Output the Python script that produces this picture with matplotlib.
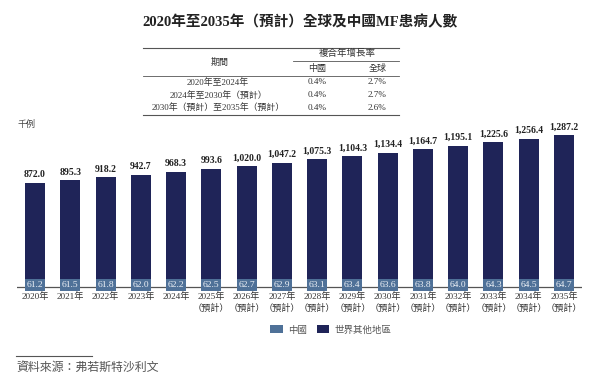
import matplotlib
matplotlib.use("Agg")
import matplotlib.pyplot as plt
from matplotlib.lines import Line2D
from matplotlib.patches import Patch

# --- data ---
years = ["2020年", "2021年", "2022年", "2023年", "2024年", "2025年", "2026年", "2027年",
         "2028年", "2029年", "2030年", "2031年", "2032年", "2033年", "2034年", "2035年"]
forecast = [False] * 5 + [True] * 11
china = [61.2, 61.5, 61.8, 62.0, 62.2, 62.5, 62.7, 62.9,
         63.1, 63.4, 63.6, 63.8, 64.0, 64.3, 64.5, 64.7]
rest_of_world = [872.0, 895.3, 918.2, 942.7, 968.3, 993.6, 1020.0, 1047.2,
                 1075.3, 1104.3, 1134.4, 1164.7, 1195.1, 1225.6, 1256.4, 1287.2]

periods = ["2020年至2024年", "2024年至2030年（預計）", "2030年（預計）至2035年（預計）"]
cagr_china = ["0.4%", "0.4%", "0.4%"]
cagr_global = ["2.7%", "2.7%", "2.6%"]

NAVY = "#1f2458"
CHINA_BLUE = "#4f7198"
TXT = "#333333"
SERIF = ["Liberation Serif", "Noto Sans CJK TC"]
SANS = ["Noto Sans CJK TC", "DejaVu Sans"]

W, H = 600, 385


def fx(x):
    return x / W


def fy(y):
    return 1 - y / H


fig = plt.figure(figsize=(6, 3.85), dpi=100)

# --- title ---
fig.text(fx(300), fy(22.5), "2020年至2035年（預計）全球及中國MF患病人數", ha="center", va="center",
         fontsize=10.5, fontweight="bold", family=SERIF, color="#222222")

# --- CAGR table ---
def hline(y, x0, x1, lw=0.8, color="#555555"):
    fig.add_artist(Line2D([fx(x0), fx(x1)], [fy(y), fy(y)], lw=lw, color=color))

hline(47.5, 143, 399)
hline(61, 293, 399, lw=0.6)
hline(76, 143, 399, lw=0.6)
hline(115, 143, 399)

fig.text(fx(220), fy(62), "期間", ha="center", va="center", fontsize=6.5, family=SANS, color=TXT)
fig.text(fx(347), fy(53.5), "複合年增長率", ha="center", va="center", fontsize=6.8, family=SANS, color=TXT)
fig.text(fx(317), fy(68.5), "中國", ha="center", va="center", fontsize=6.5, family=SANS, color=TXT)
fig.text(fx(378), fy(68.5), "全球", ha="center", va="center", fontsize=6.5, family=SANS, color=TXT)

for i, (p, c, g) in enumerate(zip(periods, cagr_china, cagr_global)):
    y = 82.5 + i * 12.5
    fig.text(fx(218), fy(y), p, ha="center", va="center", fontsize=6.4, family=SERIF, color=TXT)
    fig.text(fx(317), fy(y), c, ha="center", va="center", fontsize=6.6, family=SERIF, color=TXT)
    fig.text(fx(377), fy(y), g, ha="center", va="center", fontsize=6.6, family=SERIF, color=TXT)

# --- bars ---
ax = fig.add_axes([fx(17), fy(289), (582 - 17) / W, (289 - 130) / H])
x = list(range(len(years)))
width = 0.567
ax.bar(x, china, width=width, color=CHINA_BLUE, zorder=3)
ax.bar(x, rest_of_world, width=width, bottom=china, color=NAVY, zorder=3)
ax.axhline(17.6, color="#555555", lw=0.9, zorder=1)

ax.set_xlim(-0.51, 15.51)
ax.set_ylim(0, 1397)

for i in x:
    total = china[i] + rest_of_world[i]
    ax.annotate(f"{rest_of_world[i]:,.1f}", (i, total), xytext=(0, 2.5), textcoords="offset points",
                ha="center", va="bottom", fontsize=7, fontweight="bold", family=SERIF, color="#222222")
    ax.text(i, 34, f"{china[i]:.1f}", ha="center", va="center", fontsize=6.8, family=SERIF,
            color="#eef2f7", zorder=5,
            bbox=dict(boxstyle="square,pad=0.18", fc=CHINA_BLUE, ec="none"))

labels = [y + "\n（預計）" if f else y for y, f in zip(years, forecast)]
ax.set_xticks(x)
ax.set_xticklabels(labels, fontsize=6.6, family=SERIF, color=TXT, linespacing=1.3)
ax.tick_params(axis="x", length=0, pad=2.5)
ax.set_yticks([])
for s in ax.spines.values():
    s.set_visible(False)

fig.text(fx(17), fy(124), "千例", ha="left", va="center", fontsize=6.5, family=SANS, color="#444444")

# --- legend ---
handles = [Patch(facecolor=CHINA_BLUE, edgecolor="none"), Patch(facecolor=NAVY, edgecolor="none")]
leg = fig.legend(handles, ["中國", "世界其他地區"], loc="center", bbox_to_anchor=(fx(331), fy(330)),
                 ncol=2, frameon=False, handlelength=1.3, handleheight=0.9, handletextpad=0.6,
                 columnspacing=1.0, prop={"family": SANS, "size": 6.8})
for t in leg.get_texts():
    t.set_color("#555555")

# --- source ---
hline(355.5, 16, 92)
fig.text(fx(16), fy(367), "資料來源：弗若斯特沙利文", ha="left", va="center", fontsize=8.6,
         family=SANS, style="italic", color="#555555")

fig.savefig("out.png", dpi=100)
